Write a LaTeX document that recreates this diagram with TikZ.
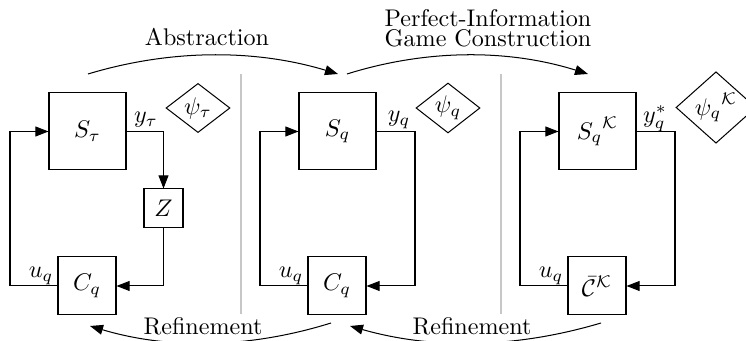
\documentclass[tikz,border=0pt]{standalone}
\usetikzlibrary{shapes.geometric,arrows.meta}
\newcommand\pxu{0.415}
\begin{document}
\begin{tikzpicture}[x=\pxu pt,y=-\pxu pt,
  line width=0.42pt,
  blk/.style={draw,rectangle,inner sep=0pt,minimum width=#1*\pxu pt,minimum height=#1*\pxu pt},
  spec/.style n args={2}{draw,diamond,inner sep=0pt,minimum width=#1*\pxu pt,minimum height=#2*\pxu pt},
  arr/.style={-{Triangle[length=5.4pt,width=4.1pt]}},
  div/.style={draw=black!22,line width=0.5pt},
  lbl/.style={inner sep=0pt},
  ttl/.style={inner sep=1pt,fill=white,align=center}
]
\useasboundingbox (0,0) rectangle (746,341);

% dividers
\coordinate (d1a) at (241,74); \coordinate (d1b) at (241,314);
\coordinate (d2a) at (501,74); \coordinate (d2b) at (501,314);
\draw[div] (d1a) -- (d1b);
\draw[div] (d2a) -- (d2b);

% left panel
\node[blk=77] (St) at (87.5,131.5) {$S_\tau$};
\node[blk=39] (Z) at (163.5,208.5) {$Z$};
\node[blk=58] (C1) at (87,286) {$C_q$};
\node[spec={64}{44}] (pt) at (198,108) {$\psi_\tau$};
\coordinate (L1) at (10,286);
\draw[arr] (St.east) -| (Z.north);
\draw[arr] (Z.south) |- (C1.east);
\draw[arr] (C1.west) -- (L1) |- (St.west);
\node[lbl] (yt) at (146,120) {$y_\tau$};
\node[lbl] (u1) at (41,276) {$u_q$};

% middle panel
\node[blk=77] (Sq) at (337.5,131.5) {$S_q$};
\node[blk=58] (C2) at (337,286) {$C_q$};
\node[spec={64}{44}] (pq) at (448,108) {$\psi_q$};
\coordinate (R2) at (415,286); \coordinate (L2) at (260,286);
\draw[arr] (Sq.east) -| (R2) -- (C2.east);
\draw[arr] (C2.west) -- (L2) |- (Sq.west);
\node[lbl] (yq) at (399,120) {$y_q$};
\node[lbl] (u2) at (291,276) {$u_q$};

% right panel
\node[blk=77] (SK) at (597.5,131.5) {${S_q}^{\mathcal{K}}$};
\node[blk=58] (CK) at (597,286) {$\bar{\mathcal{C}}^{\mathcal{K}}$};
\node[spec={80}{65}] (pK) at (716,107.5) {${\psi_q}^{\mathcal{K}}$};
\coordinate (R3) at (675,286); \coordinate (L3) at (520,286);
\draw[arr] (SK.east) -| (R3) -- (CK.east);
\draw[arr] (CK.west) -- (L3) |- (SK.west);
\node[lbl] (ys) at (655,119) {$y_q^*$};
\node[lbl] (u3) at (551,276) {$u_q$};

% top arcs
\coordinate (a1) at (88,74); \coordinate (a2) at (338,74);
\draw[arr] (a1) .. controls (171,49) and (255,49) .. (a2);
\node[ttl] (abs) at (207,37) {Abstraction};
\coordinate (g1) at (347,74); \coordinate (g2) at (588,74);
\draw[arr] (g1) .. controls (427,49) and (508,49) .. (g2);
\node[ttl] (gam) at (488,28) {Perfect-Information\\[-3.7pt]Game Construction};

% bottom arcs
\coordinate (r1) at (331,323); \coordinate (r2) at (90,326);
\draw[arr] (r1) .. controls (251,348) and (170,350) .. (r2);
\node[ttl] (ref1) at (203,326) {Refinement};
\coordinate (r3) at (601,323); \coordinate (r4) at (350,326);
\draw[arr] (r3) .. controls (517,348) and (434,350) .. (r4);
\node[ttl] (ref2) at (472,326) {Refinement};
\end{tikzpicture}
\end{document}
